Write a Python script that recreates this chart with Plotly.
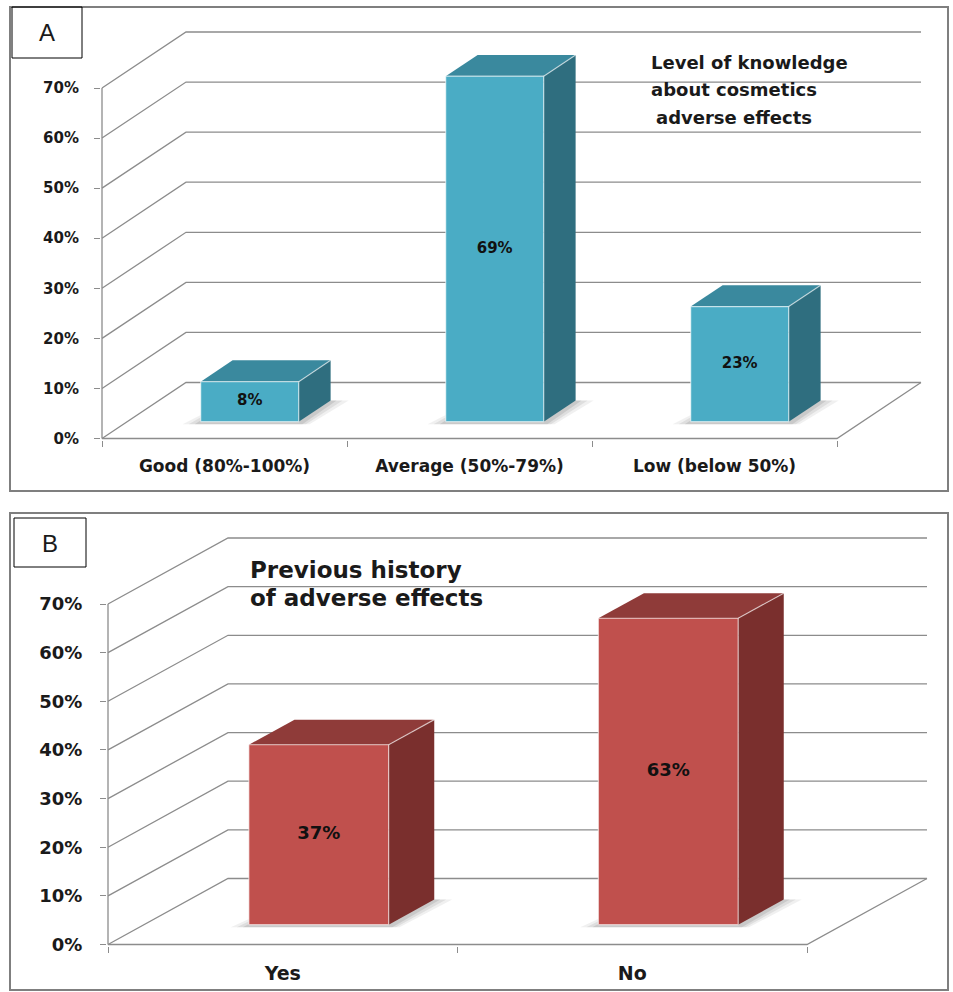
import plotly.graph_objects as go

W, H = 953, 992

# ---- data -------------------------------------------------------------
know_levels = ["Good (80%-100%)", "Average (50%-79%)", "Low (below 50%)"]
know_share = [8, 69, 23]

history_answers = ["Yes", "No"]
history_share = [37, 63]

pct_ticks = [0, 10, 20, 30, 40, 50, 60, 70]
pct_labels = ["0%", "10%", "20%", "30%", "40%", "50%", "60%", "70%"]

# ---- styling / geometry ----------------------------------------------
FONT = "DejaVu Sans"
TEXT = "#1a1a1a"
GRID = "#8c8c8c"
BAR_WIDTH = 0.4          # in category units
DEPTH_FRONT, DEPTH_BACK = 0.30, 0.68   # bar position inside the floor depth

panels = [
    dict(xa="x", ya="y", cats=know_levels, vals=know_share,
         x0=102, base=438.5, pcat=245.0, ppct=5.007, depth=(84, 56),
         dom_x=(101, 940), dom_y=(12, 440),
         colors=("#4aacc5", "#3a899e", "#2f6e7f"),
         tick_size=15, cat_size=17, label_size=15, cat_standoff=14, tick_standoff=12),
    dict(xa="x2", ya="y2", cats=history_answers, vals=history_share,
         x0=108, base=944.5, pcat=349.5, ppct=4.864, depth=(120, 66),
         dom_x=(107, 945), dom_y=(518, 946),
         colors=("#c0504d", "#8f3b39", "#7a2f2d"),
         tick_size=18, cat_size=19, label_size=18, cat_standoff=14, tick_standoff=14),
]

fig = go.Figure()


def add_poly(xs, ys, xa, ya, color):
    fig.add_trace(go.Scatter(x=xs + [xs[0]], y=ys + [ys[0]], xaxis=xa, yaxis=ya,
                             mode="lines", fill="toself", fillcolor=color,
                             line=dict(width=0), hoverinfo="skip", showlegend=False))


layout_axes = {}
for k, p in enumerate(panels):
    xa, ya = p["xa"], p["ya"]
    n = len(p["cats"])
    dx = p["depth"][0] / p["pcat"]     # depth offset in category units
    dy = p["depth"][1] / p["ppct"]     # depth offset in percent units
    vmax = pct_ticks[-1]

    # back wall gridlines with their oblique side-wall segments
    gx, gy = [], []
    for t in pct_ticks:
        gx += [0, dx, n + dx, None]
        gy += [t, t + dy, t + dy, None]
    # floor front edge and right-hand floor edge
    gx += [0, n, n + dx, None]
    gy += [0, 0, dy, None]
    # front value axis
    gx += [0, 0]
    gy += [0, vmax]
    fig.add_trace(go.Scatter(x=gx, y=gy, xaxis=xa, yaxis=ya, mode="lines",
                             line=dict(color=GRID, width=1.3),
                             hoverinfo="skip", showlegend=False))

    hw = BAR_WIDTH / 2
    bars = []
    for i, v in enumerate(p["vals"]):
        cx = i + 0.5
        fx0, fx1 = cx - hw + DEPTH_FRONT * dx, cx + hw + DEPTH_FRONT * dx
        bx0, bx1 = cx - hw + DEPTH_BACK * dx, cx + hw + DEPTH_BACK * dx
        fy, by = DEPTH_FRONT * dy, DEPTH_BACK * dy
        bars.append((v, fx0, fx1, bx0, bx1, fy, by))

    # soft floor shadows under the bars
    for (v, fx0, fx1, bx0, bx1, fy, by) in bars:
        for e, op in [(18, 0.07), (12, 0.09), (6, 0.11)]:
            ex = e / p["pcat"]
            ey = 2.5 / p["ppct"]
            add_poly([fx0 - ex, fx1 + ex * 0.6, bx1 + ex, bx0 - ex * 0.2],
                     [fy - ey, fy - ey, by, by], xa, ya, f"rgba(40,40,40,{op})")

    front_c, top_c, side_c = p["colors"]
    for (v, fx0, fx1, bx0, bx1, fy, by) in bars:
        # top face
        add_poly([fx0, fx1, bx1, bx0], [fy + v, fy + v, by + v, by + v], xa, ya, top_c)
        # right side face
        add_poly([fx1, bx1, bx1, fx1], [fy, by, by + v, fy + v], xa, ya, side_c)
        # front face
        add_poly([fx0, fx1, fx1, fx0], [fy, fy, fy + v, fy + v], xa, ya, front_c)
        # light bevel edges
        fig.add_trace(go.Scatter(
            x=[fx0, fx1, fx1, fx0, fx0, None, fx1, bx1],
            y=[fy, fy, fy + v, fy + v, fy, None, fy + v, by + v],
            xaxis=xa, yaxis=ya, mode="lines",
            line=dict(color="rgba(255,255,255,0.6)", width=1.2),
            hoverinfo="skip", showlegend=False))

    # value labels on the front faces
    fig.add_trace(go.Scatter(
        x=[(b[1] + b[2]) / 2 for b in bars],
        y=[b[5] + b[0] / 2 for b in bars],
        text=[f"{b[0]}%" for b in bars],
        xaxis=xa, yaxis=ya, mode="text",
        textfont=dict(family=FONT, size=p["label_size"], color="#111111", weight="bold"),
        hoverinfo="skip", showlegend=False))

    # axes mapped so that the drawing sits at the right pixels
    xr = [-(p["x0"] - p["dom_x"][0]) / p["pcat"], (p["dom_x"][1] - p["x0"]) / p["pcat"]]
    yr = [(p["base"] - p["dom_y"][1]) / p["ppct"], (p["base"] - p["dom_y"][0]) / p["ppct"]]
    xkey = "xaxis" if k == 0 else f"xaxis{k + 1}"
    ykey = "yaxis" if k == 0 else f"yaxis{k + 1}"
    layout_axes[xkey] = dict(
        domain=[p["dom_x"][0] / W, p["dom_x"][1] / W], range=xr, anchor=ya,
        automargin=False,
        tickmode="array", tickvals=[i + 0.5 for i in range(n)], ticktext=p["cats"],
        ticks="", showgrid=False, zeroline=False, showline=False, fixedrange=True,
        tickfont=dict(family=FONT, size=p["cat_size"], color=TEXT, weight="bold"),
        ticklabelstandoff=p["cat_standoff"],
        minor=dict(tickmode="array", tickvals=list(range(n + 1)), ticks="outside",
                   ticklen=6, tickcolor=GRID, tickwidth=1, showgrid=False))
    layout_axes[ykey] = dict(
        domain=[1 - p["dom_y"][1] / H, 1 - p["dom_y"][0] / H], range=yr, anchor=xa,
        automargin=False,
        tickmode="array", tickvals=pct_ticks, ticktext=pct_labels,
        ticks="outside", ticklen=6, tickcolor=GRID, tickwidth=1,
        showgrid=False, zeroline=False, showline=False, fixedrange=True,
        tickfont=dict(family=FONT, size=p["tick_size"], color=TEXT, weight="bold"),
        ticklabelstandoff=p["tick_standoff"])


def px_rect(x0, y0, x1, y1, color, width):
    return dict(type="rect", xref="paper", yref="paper",
                x0=x0 / W, x1=x1 / W, y0=1 - y1 / H, y1=1 - y0 / H,
                line=dict(color=color, width=width), fillcolor="rgba(0,0,0,0)")


def px_text(x, y, text, size, xanchor="left", weight="bold", family=FONT):
    return dict(xref="paper", yref="paper", x=x / W, y=1 - y / H, text=text,
                showarrow=False, xanchor=xanchor, yanchor="middle",
                font=dict(family=family, size=size, color=TEXT, weight=weight))


shapes = [
    px_rect(10, 7, 948, 491, "#7f7f7f", 2),
    px_rect(10, 513, 948, 990, "#7f7f7f", 2),
    px_rect(12, 7, 82, 58, "#000000", 1),
    px_rect(14, 518, 86, 567, "#000000", 1),
]

annotations = [
    px_text(47, 33, "A", 24, "center", "normal", "Liberation Sans"),
    px_text(50, 543, "B", 24, "center", "normal", "Liberation Sans"),
    px_text(649, 63, "Level of knowledge", 18),
    px_text(649, 90, "about cosmetics", 18),
    px_text(654, 118, "adverse effects", 18),
    px_text(248, 570, "Previous history", 23),
    px_text(248, 598, "of adverse effects", 23),
]

fig.update_layout(
    width=W, height=H, margin=dict(l=0, r=0, t=0, b=0, pad=0),
    paper_bgcolor="white", plot_bgcolor="rgba(0,0,0,0)",
    showlegend=False, shapes=shapes, annotations=annotations,
    **layout_axes,
)

fig.write_html("out.html")
